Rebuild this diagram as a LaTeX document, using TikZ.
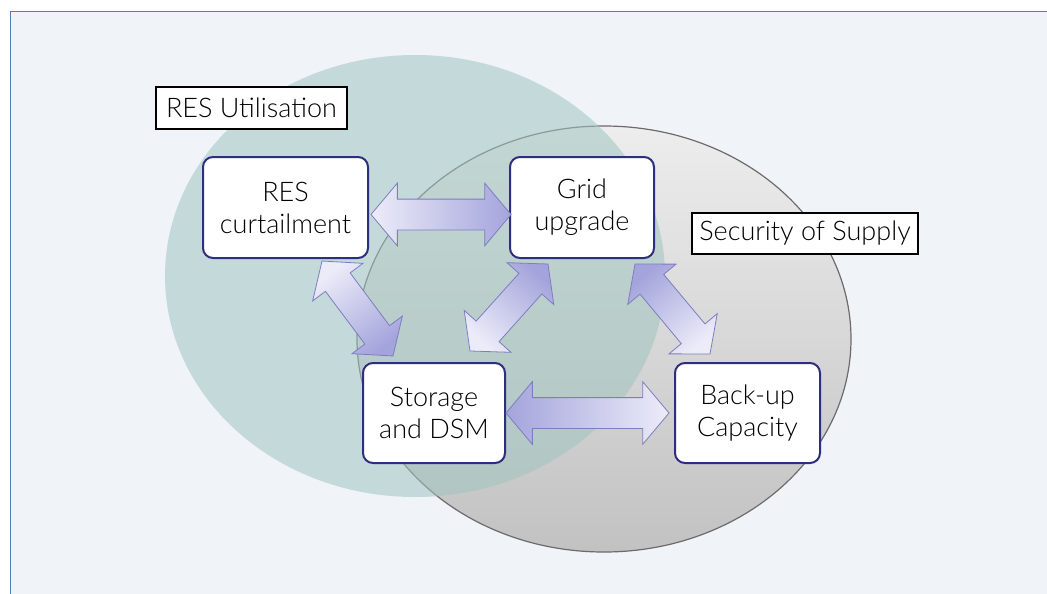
\documentclass[tikz,border=0pt]{standalone}
\usepackage{fontspec}
\setmainfont{Lato Light}
\usetikzlibrary{calc,shapes.arrows}
\definecolor{framebg}{HTML}{F0F3F8}
\definecolor{frameline}{HTML}{4F81BD}
\definecolor{restint}{RGB}{160,196,192}
\definecolor{boxline}{HTML}{2E2E7E}
\definecolor{arrdark}{HTML}{A4A4DC}
\definecolor{arrlight}{HTML}{ECECF9}
\definecolor{arrline}{HTML}{7D7DC2}
\tikzset{
  measure/.style={draw=boxline,line width=2pt,rounded corners=10pt,fill=white,align=center,
    font=\fontsize{27}{32}\selectfont,inner sep=0pt},
  area/.style={draw=black,line width=2pt,fill=white,font=\fontsize{27}{32}\selectfont,inner sep=0pt},
  link/.style={double arrow,draw=arrline,line width=0.8pt,left color=arrdark,right color=arrlight,
    double arrow head extend=16pt,double arrow tip angle=100,inner xsep=0pt,inner ysep=15pt}
}
% dark end first, light end second
\newcommand\swaparrow[2]{%
  \path let \p1=($(#2)-(#1)$),\n1={atan2(\y1,\x1)},\n2={veclen(\x1,\y1)},\n3={\n1+90} in
    node[link,minimum height=\n2,rotate=\n1,shading angle=\n3] at ($(#1)!0.5!(#2)$) {};}
\begin{document}
\begin{tikzpicture}[x=1pt,y=-1pt]
	\useasboundingbox (0,0) rectangle (1047,594);
	\fill[framebg] (10,12) rectangle (1047,594);
	\draw[frameline,line width=1pt] (10,594) -- (10,12) -- (1047,12);
	% the two areas
	\shade[top color=black!7,bottom color=black!24,draw=black!58,line width=1.2pt]
		(604,339) ellipse[x radius=247,y radius=213];
	\fill[restint,opacity=0.55] (415,276) ellipse[x radius=250,y radius=221];
	% measures
	\node[measure,minimum width=165pt,minimum height=101pt] (res) at (285.5,207.5) {RES\\curtailment};
	\node[measure,minimum width=144pt,minimum height=101pt] (grid) at (582,207.5) {Grid\\upgrade};
	\node[measure,minimum width=142pt,minimum height=100pt] (store) at (434,413) {Storage\\and DSM};
	\node[measure,minimum width=145pt,minimum height=100pt] (backup) at (747.5,413) {Back-up\\Capacity};
	\node[area,minimum width=191pt,minimum height=42pt] (resuse) at (251.5,108) {RES Utilisation};
	\node[area,minimum width=226pt,minimum height=41pt] (security) at (805,233.5) {Security of Supply};
	% ends of the links
	\coordinate (grid-w) at ($(grid.west)+(2,7)$);
	\coordinate (res-e) at ($(res.east)+(2,7)$);
	\coordinate (res-s) at ($(res.south)+(36.5,2)$);
	\coordinate (store-nw) at ($(store.north)+(-41,-6)$);
	\coordinate (store-ne) at ($(store.north)+(36,-11)$);
	\coordinate (store-e) at (store.east);
	\coordinate (grid-sw) at ($(grid.south)+(-34,5)$);
	\coordinate (grid-se) at ($(grid.south)+(53,5)$);
	\coordinate (backup-n) at ($(backup.north)+(-37.5,-8)$);
	\coordinate (backup-w) at ($(backup.west)+(-5,0)$);
	\swaparrow{grid-w}{res-e}
	\swaparrow{store-nw}{res-s}
	\swaparrow{grid-sw}{store-ne}
	\swaparrow{grid-se}{backup-n}
	\swaparrow{store-e}{backup-w}
\end{tikzpicture}
\end{document}
